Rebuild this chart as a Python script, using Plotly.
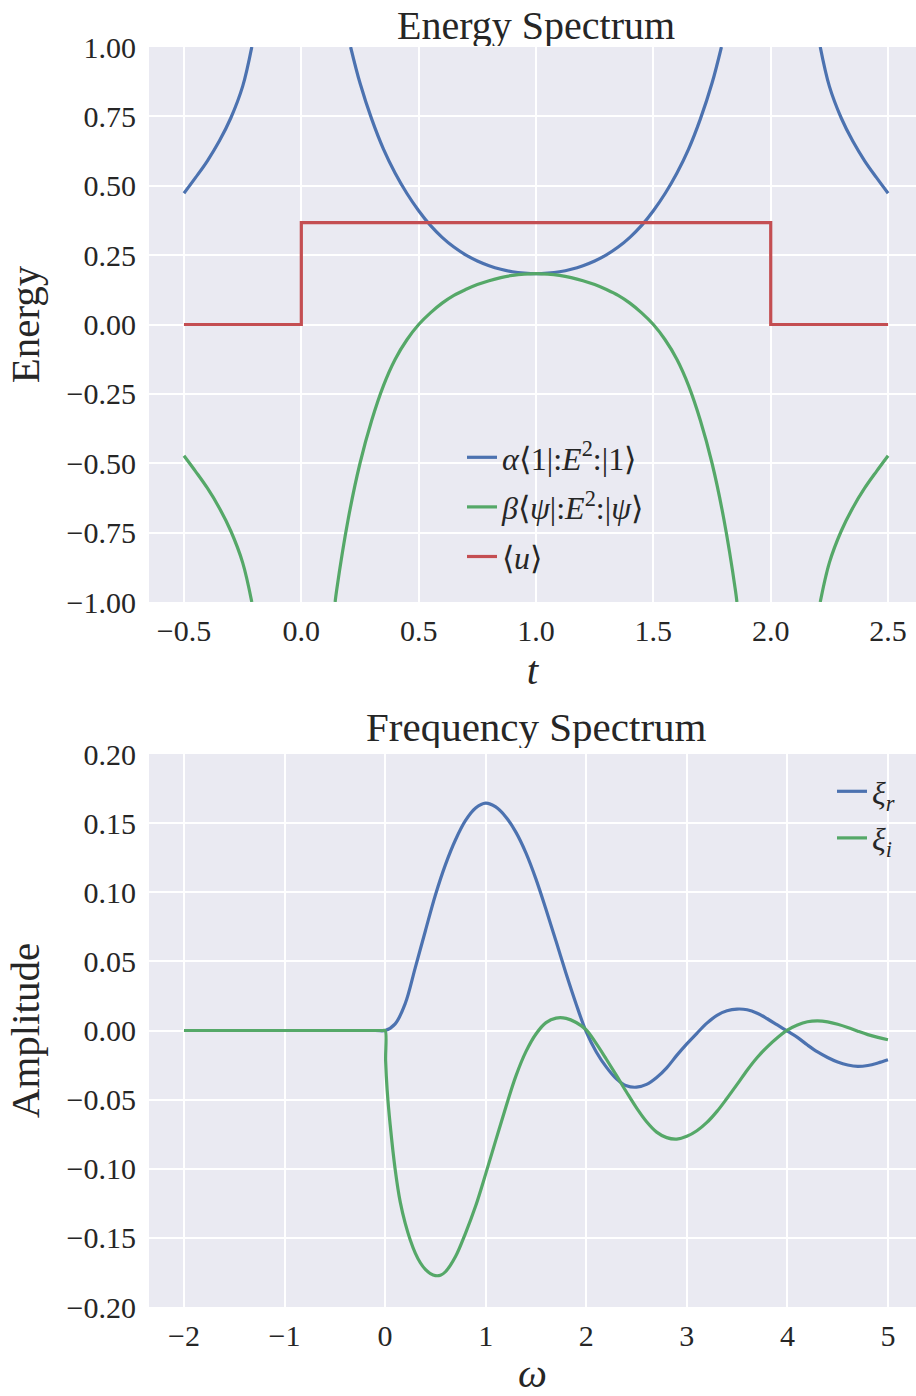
import plotly.graph_objects as go

# ---------------- data: Energy Spectrum ----------------
t_blue = [-0.5, -0.45, -0.4, -0.35, -0.3, -0.25, -0.211, None,
          0.21, 0.25, 0.3, 0.35, 0.4, 0.45, 0.5, 0.55, 0.6, 0.65, 0.7, 0.75, 0.8, 0.85, 0.9, 0.95, 1.0,
          1.05, 1.1, 1.15, 1.2, 1.25, 1.3, 1.35, 1.4, 1.45, 1.5, 1.55, 1.6, 1.65, 1.7, 1.75, 1.79, None,
          2.211, 2.25, 2.3, 2.35, 2.4, 2.45, 2.5]
e_blue = [0.473, 0.53, 0.59, 0.66, 0.745, 0.858, 1.0, None,
          1.0, 0.87, 0.74, 0.632, 0.545, 0.472, 0.41, 0.357, 0.314, 0.279, 0.251, 0.229, 0.212, 0.199, 0.19, 0.185, 0.183,
          0.185, 0.19, 0.199, 0.212, 0.229, 0.251, 0.279, 0.314, 0.357, 0.41, 0.472, 0.545, 0.632, 0.74, 0.87, 1.0, None,
          1.0, 0.858, 0.745, 0.66, 0.59, 0.53, 0.473]

t_green = [-0.5, -0.45, -0.4, -0.35, -0.3, -0.25, -0.211, None,
           0.144, 0.15, 0.2, 0.25, 0.3, 0.35, 0.4, 0.45, 0.5, 0.55, 0.6, 0.65, 0.7, 0.75, 0.8, 0.85, 0.9, 0.95, 1.0,
           1.05, 1.1, 1.15, 1.2, 1.25, 1.3, 1.35, 1.4, 1.45, 1.5, 1.55, 1.6, 1.65, 1.7, 1.75, 1.8, 1.85, 1.856, None,
           2.211, 2.25, 2.3, 2.35, 2.4, 2.45, 2.5]
e_green = [-0.473, -0.53, -0.59, -0.66, -0.745, -0.858, -1.0, None,
           -1.0, -0.96, -0.70, -0.50, -0.345, -0.22, -0.125, -0.055, 0.0, 0.042, 0.077, 0.105, 0.126, 0.144, 0.158, 0.169, 0.177, 0.1815, 0.183,
           0.1815, 0.177, 0.169, 0.158, 0.144, 0.126, 0.105, 0.077, 0.042, 0.0, -0.055, -0.125, -0.22, -0.345, -0.50, -0.70, -0.96, -1.0, None,
           -1.0, -0.858, -0.745, -0.66, -0.59, -0.53, -0.473]

t_red = [-0.5, 0.0, 2.0, 2.5]
e_red = [0.0, 0.367, 0.0, 0.0]

# ---------------- data: Frequency Spectrum ----------------
w_r = [-2, -0.1, 0, 0.1, 0.2, 0.3, 0.4, 0.5, 0.6, 0.7, 0.8, 0.9, 1.0, 1.1, 1.2, 1.3, 1.4, 1.5,
       1.6, 1.7, 1.8, 1.9, 2.0, 2.1, 2.2, 2.3, 2.4, 2.5, 2.6, 2.7, 2.8, 2.9, 3.0, 3.1, 3.2, 3.3,
       3.4, 3.5, 3.6, 3.7, 3.8, 3.9, 4.0, 4.1, 4.2, 4.3, 4.4, 4.5, 4.6, 4.7, 4.8, 4.9, 5.0]
xi_r = [0, 0, 0, 0.0048, 0.0195, 0.0455, 0.072, 0.098, 0.12, 0.138, 0.152, 0.161, 0.1645, 0.1617, 0.1545, 0.1435, 0.1285, 0.1095,
        0.0875, 0.0645, 0.041, 0.019, -0.001, -0.0155, -0.0265, -0.035, -0.040, -0.041, -0.039, -0.034, -0.027, -0.018, -0.0097, -0.002, 0.0053, 0.011,
        0.0143, 0.0155, 0.015, 0.0125, 0.0085, 0.004, -0.0005, -0.005, -0.0105, -0.0155, -0.0195, -0.0228, -0.025, -0.026, -0.0253, -0.0235, -0.0212]

w_i = [-2, -0.1, -0.02, 0, 0.005, 0.02, 0.05, 0.1, 0.15, 0.2, 0.25, 0.3, 0.35, 0.4, 0.45, 0.5, 0.55, 0.6,
       0.7, 0.8, 0.9, 1.0, 1.1, 1.2, 1.3, 1.4, 1.5, 1.6, 1.7, 1.8, 1.9, 2.0, 2.1, 2.2, 2.3, 2.4,
       2.5, 2.6, 2.7, 2.8, 2.9, 3.0, 3.1, 3.2, 3.3, 3.4, 3.5, 3.6, 3.7, 3.8, 3.9, 4.0, 4.1, 4.2,
       4.3, 4.4, 4.5, 4.6, 4.7, 4.8, 4.9, 5.0]
xi_i = [0, 0, 0, 0, -0.022, -0.043, -0.068, -0.1005, -0.124, -0.1395, -0.1515, -0.161, -0.168, -0.1728, -0.1758, -0.1773, -0.177, -0.1745,
        -0.1635, -0.1465, -0.127, -0.1037, -0.0795, -0.0555, -0.033, -0.0153, -0.0025, 0.0057, 0.009, 0.0088, 0.0058, 0.0005, -0.0095, -0.0208, -0.0325, -0.0445,
        -0.056, -0.066, -0.0735, -0.0775, -0.0785, -0.0765, -0.0725, -0.0665, -0.0585, -0.049, -0.039, -0.0287, -0.0195, -0.0118, -0.0052, 0.0003, 0.004, 0.0063,
        0.0069, 0.0062, 0.0045, 0.0022, -0.0005, -0.003, -0.005, -0.0067]

# ---------------- ticks ----------------
t_ticks = [-0.5, 0.0, 0.5, 1.0, 1.5, 2.0, 2.5]
t_ticklabels = ["\u22120.5", "0.0", "0.5", "1.0", "1.5", "2.0", "2.5"]
e_ticks = [-1.0, -0.75, -0.5, -0.25, 0.0, 0.25, 0.5, 0.75, 1.0]
e_ticklabels = ["\u22121.00", "\u22120.75", "\u22120.50", "\u22120.25", "0.00", "0.25", "0.50", "0.75", "1.00"]
w_ticks = [-2, -1, 0, 1, 2, 3, 4, 5]
w_ticklabels = ["\u22122", "\u22121", "0", "1", "2", "3", "4", "5"]
a_ticks = [-0.2, -0.15, -0.1, -0.05, 0.0, 0.05, 0.1, 0.15, 0.2]
a_ticklabels = ["\u22120.20", "\u22120.15", "\u22120.10", "\u22120.05", "0.00", "0.05", "0.10", "0.15", "0.20"]

BLUE, GREEN, RED = "#4C72B0", "#55A868", "#C44E52"
FONT = "Liberation Serif"
TXT = "#262626"
BG = "#EAEAF2"
LW = 3.2
SM = 1.0

fig = go.Figure()
fig.add_trace(go.Scatter(x=t_blue, y=e_blue, mode="lines", line=dict(color=BLUE, width=LW, shape="spline", smoothing=SM),
                         name="<i>α</i>⟨1|:<i>E</i><sup>2</sup>:|1⟩", xaxis="x", yaxis="y", legend="legend",
                         legendgroup="a", connectgaps=False))
fig.add_trace(go.Scatter(x=t_green, y=e_green, mode="lines", line=dict(color=GREEN, width=LW, shape="spline", smoothing=SM),
                         name="<i>β</i>⟨<i>ψ</i>|:<i>E</i><sup>2</sup>:|<i>ψ</i>⟩", xaxis="x", yaxis="y", legend="legend",
                         legendgroup="b", connectgaps=False))
fig.add_trace(go.Scatter(x=t_red, y=e_red, mode="lines", line=dict(color=RED, width=LW, shape="hv"),
                         name="⟨<i>u</i>⟩", xaxis="x", yaxis="y", legend="legend", legendgroup="c"))
fig.add_trace(go.Scatter(x=w_r, y=xi_r, mode="lines", line=dict(color=BLUE, width=LW, shape="spline", smoothing=SM),
                         name="<i>ξ<sub>r</sub></i>", xaxis="x2", yaxis="y2", legend="legend2", legendgroup="d"))
fig.add_trace(go.Scatter(x=w_i, y=xi_i, mode="lines", line=dict(color=GREEN, width=LW, shape="spline", smoothing=SM),
                         name="<i>ξ<sub>i</sub></i>", xaxis="x2", yaxis="y2", legend="legend2", legendgroup="e"))

W, H = 916, 1396
PL, PT, PB = 149, 47, 1307          # plot-area edges in the picture
ML, MT, MB, MR = PL, PT, H - PB, 0
PW = W - PL
PH = PB - PT


def px(x):
    return (x - PL) / PW


def py(y):
    return (PB - y) / PH


top_lo = py(602)
bot_hi = py(754)

axis_common = dict(showgrid=True, gridcolor="white", gridwidth=2, zeroline=False, showline=False,
                   ticks="", tickfont=dict(family=FONT, size=30, color=TXT),
                   title_font=dict(family=FONT, size=41, color=TXT))

fig.update_layout(
    width=W, height=H,
    margin=dict(l=ML, r=MR, t=MT, b=MB, pad=0),
    paper_bgcolor="white", plot_bgcolor=BG,
    font=dict(family=FONT, color=TXT),
    xaxis=dict(domain=[0, 1], anchor="y", range=[-0.649, 2.619], tickvals=t_ticks, ticktext=t_ticklabels,
               title=dict(text="<i>t</i>", standoff=2), ticklabelstandoff=8, **axis_common),
    yaxis=dict(domain=[top_lo, 1], anchor="x", range=[-1, 1], tickvals=e_ticks, ticktext=e_ticklabels,
               title=dict(text="Energy", standoff=14), ticklabelstandoff=12, **axis_common),
    xaxis2=dict(domain=[0, 1], anchor="y2", range=[-2.348, 5.279], tickvals=w_ticks, ticktext=w_ticklabels,
                title=dict(text="<i>ω</i>", standoff=8), ticklabelstandoff=8, **axis_common),
    yaxis2=dict(domain=[0, bot_hi], anchor="x2", range=[-0.2, 0.2], tickvals=a_ticks, ticktext=a_ticklabels,
                title=dict(text="Amplitude", standoff=14), ticklabelstandoff=12, **axis_common),
    legend=dict(x=px(462), y=py(430), xanchor="left", yanchor="top", traceorder="grouped", tracegroupgap=5,
                bgcolor="rgba(0,0,0,0)", font=dict(family=FONT, size=32, color=TXT)),
    legend2=dict(x=px(832), y=py(764), xanchor="left", yanchor="top", traceorder="grouped", tracegroupgap=2,
                 bgcolor="rgba(0,0,0,0)", font=dict(family=FONT, size=32, color=TXT)),
    annotations=[
        dict(text="Energy Spectrum", x=px(536), y=py(25), xref="paper", yref="paper", height=42,
             xanchor="center", yanchor="middle", valign="middle", showarrow=False,
             font=dict(family=FONT, size=40, color=TXT)),
        dict(text="Frequency Spectrum", x=px(536), y=py(727), xref="paper", yref="paper", height=42,
             xanchor="center", yanchor="middle", valign="middle", showarrow=False,
             font=dict(family=FONT, size=41, color=TXT)),
    ],
)

# remove the default 8px page margin so the figure fills the window exactly; no mode bar
fig.write_html("out.html", config={"displayModeBar": False},
               post_script="document.body.style.margin='0';document.body.style.overflow='hidden';")
